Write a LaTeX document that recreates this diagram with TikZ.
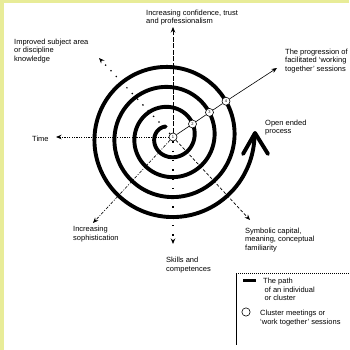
\documentclass[tikz,border=0pt]{standalone}
\usepackage{fontspec}
\setmainfont{Liberation Sans}
\usetikzlibrary{arrows.meta}
\pgfdeclarelayer{bg}
\pgfsetlayers{bg,main}
\definecolor{frameyellow}{RGB}{232,236,152}
\begin{document}
\begin{tikzpicture}[x=1pt,y=-1pt,
  lbl/.style={anchor=west, align=left, inner sep=0pt, font=\fontsize{7.5}{8.8}\selectfont},
  num/.style={circle, draw, fill=white, line width=0.6pt, minimum size=8pt, inner sep=0pt, font=\fontsize{4}{4}\selectfont},
  ax/.style={-{Stealth[length=5.5pt,width=4.5pt]}},
  spiral/.style={line width=3.9pt, line cap=round, line join=round}]
\useasboundingbox (0,0) rectangle (349,350);
\fill[frameyellow] (0,0) rectangle (349,3.5);
\fill[frameyellow] (0,0) rectangle (4,350);

% meeting circles
\node[num] (c1) at (173,137) {1};
\node[num] (c2) at (192.5,124) {2};
\node[num] (c3) at (209.5,112.4) {3};
\node[num] (c4) at (226,101.2) {4};

% axis end points
\coordinate (eU) at (173,27);
\coordinate (eUL) at (99,58);
\coordinate (eL) at (56,137);
\coordinate (eLL) at (93,223);
\coordinate (eD) at (173,244);
\coordinate (eLR) at (250,220);
\coordinate (eUR) at (277,68);

\begin{pgfonlayer}{bg}
  \draw[ax, line width=0.7pt, dash pattern=on 5pt off 1.5pt] (c1) -- (eU);
  \draw[ax, line width=1.2pt, dash pattern=on 1.3pt off 6.5pt] (c1) -- (eUL);
  \draw[ax, line width=1pt, dash pattern=on 1.2pt off 1.2pt] (c1) -- (eL);
  \draw[ax, line width=0.6pt, dash pattern=on 3pt off 1.5pt on 1pt off 1.5pt] (c1) -- (eLL);
  \draw[ax, line width=1.2pt, dash pattern=on 1.3pt off 8pt] (c1) -- (eD);
  \draw[ax, line width=0.7pt, dash pattern=on 3pt off 2pt] (c1) -- (eLR);
  % spiral path
  \draw[spiral] plot[domain=110:1441, samples=500, smooth, variable=\t]
    ({169.5+(10+(\t-90)/18)*cos(\t)}, {137-(10+(\t-90)/18)*sin(\t)});
  \draw[spiral] (243,154) -- (255,133) -- (268,154);
\end{pgfonlayer}

% progression of sessions
\draw[line width=0.6pt] (c1) -- (c2);
\draw[line width=0.6pt] (c2) -- (c3);
\draw[line width=0.6pt] (c3) -- (c4);
\draw[ax, line width=0.6pt] (c4) -- (eUR);

% labels
\node[lbl] (lU) at (146,17.5) {Increasing confidence, trust\\and professionalism};
\node[lbl] (lUL) at (14,51) {Improved subject area\\or discipline\\knowledge};
\node[lbl] (lUR) at (285,61) {The progression of\\facilitated `working\\together' sessions};
\node[lbl] (lOE) at (265,127.5) {Open ended\\process};
\node[lbl] (lT) at (32,139) {Time};
\node[lbl] (lLL) at (73,234) {Increasing\\sophistication};
\node[lbl] (lD) at (166,265) {Skills and\\competences};
\node[lbl] (lLR) at (245,240) {Symbolic capital,\\meaning, conceptual\\familiarity};

% legend
\coordinate (gTL) at (236,273.5);
\coordinate (gTR) at (349,273.5);
\coordinate (gBL) at (236,345);
\draw[line width=0.6pt, dash pattern=on 1pt off 1pt] (gTL) -- (gTR);
\draw[line width=0.8pt] (gTL) -- (gBL);
\node[fill=black, minimum width=13pt, minimum height=3pt, inner sep=0pt] (gbar) at (249,280.5) {};
\node[circle, draw, line width=0.6pt, minimum size=8.3pt, inner sep=0pt] (gcirc) at (246,312) {};
\node[lbl] (gpath) at (263,289.5) {The path\\\hspace*{1.5pt}of an individual\\\hspace*{1.5pt}or cluster};
\node[lbl] (gclus) at (260,318) {Cluster meetings or\\`work together' sessions};
\end{tikzpicture}
\end{document}
